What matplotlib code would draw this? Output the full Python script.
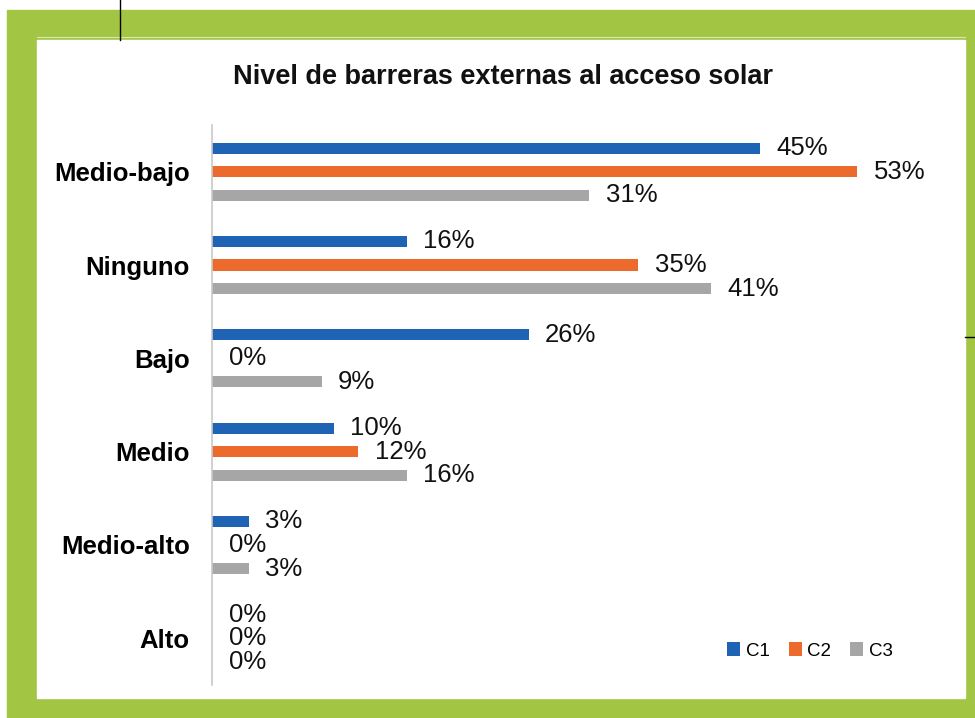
import matplotlib.pyplot as plt
from matplotlib.patches import Rectangle
from matplotlib.lines import Line2D
import numpy as np

# Datos
categorias = ['Medio-bajo', 'Ninguno', 'Bajo', 'Medio', 'Medio-alto', 'Alto']
c1 = [45, 16, 26, 10, 3, 0]
c2 = [53, 35, 0, 12, 0, 0]
c3 = [31, 41, 9, 16, 3, 0]
series = ['C1', 'C2', 'C3']
colores = ['#1F64B4', '#EC6A2C', '#A6A6A6']
titulo = 'Nivel de barreras externas al acceso solar'

plt.rcParams['font.family'] = ['Liberation Sans', 'DejaVu Sans']

W, H = 975, 718
fig = plt.figure(figsize=(W / 100, H / 100), dpi=100)
fig.patch.set_facecolor('white')

# marco verde (detrás de los ejes)
verde = '#A2C544'
fig.patches.append(Rectangle((7 / W, 0), 1 - 7 / W, 1 - 10 / H,
                             transform=fig.transFigure, color=verde, zorder=-2))
fig.patches.append(Rectangle((37 / W, 1 - 698 / H), (965 - 37) / W, (698 - 40) / H,
                             transform=fig.transFigure, color='white', zorder=-1))
fig.lines.append(Line2D([37 / W, 965 / W], [1 - 37 / H, 1 - 37 / H],
                        transform=fig.transFigure, color='#D8E8B0', lw=0.8, zorder=-1))
fig.lines.append(Line2D([119.5 / W, 119.5 / W], [1, 1 - 40 / H],
                        transform=fig.transFigure, color='black', lw=1))
fig.lines.append(Line2D([965 / W, 975 / W], [1 - 337 / H, 1 - 337 / H],
                        transform=fig.transFigure, color='black', lw=1))

ax = fig.add_axes([212 / W, 1 - 685 / H, (940 - 212) / W, (685 - 125) / H])
ax.set_facecolor('none')

y = np.arange(len(categorias))
offset = 0.252
h = 0.118
for i, (vals, nombre) in enumerate(zip([c1, c2, c3], series)):
    pos = y + (i - 1) * offset
    ax.barh(pos, vals, height=h, color=colores[i], label=nombre)
    for p, v in zip(pos, vals):
        ax.annotate(f'{v}%', (v, p), xytext=(12, 0), textcoords='offset points',
                    va='center', ha='left', fontsize=18.5, color='#111111')

ax.set_xlim(0, 59.8)
ax.set_ylim(len(categorias) - 0.5, -0.5)
ax.set_yticks(y)
ax.set_yticklabels(categorias, fontsize=18.5, fontweight='bold')
ax.tick_params(axis='y', length=0, pad=16)
ax.set_xticks([])
for s in ['top', 'right', 'bottom']:
    ax.spines[s].set_visible(False)
ax.spines['left'].set_color('#C8C8C8')
ax.spines['left'].set_linewidth(1.2)

fig.text(503 / W, 1 - 77 / H, titulo, ha='center', va='center',
         fontsize=19.5, fontweight='bold', color='#111111')

ax.legend(loc='center', bbox_to_anchor=(810 / W, 1 - 651 / H),
          bbox_transform=fig.transFigure, ncol=3, frameon=False,
          fontsize=13.5, handlelength=0.7, handleheight=0.7,
          handletextpad=0.3, columnspacing=1.0)

fig.savefig('out.png', dpi=100)
